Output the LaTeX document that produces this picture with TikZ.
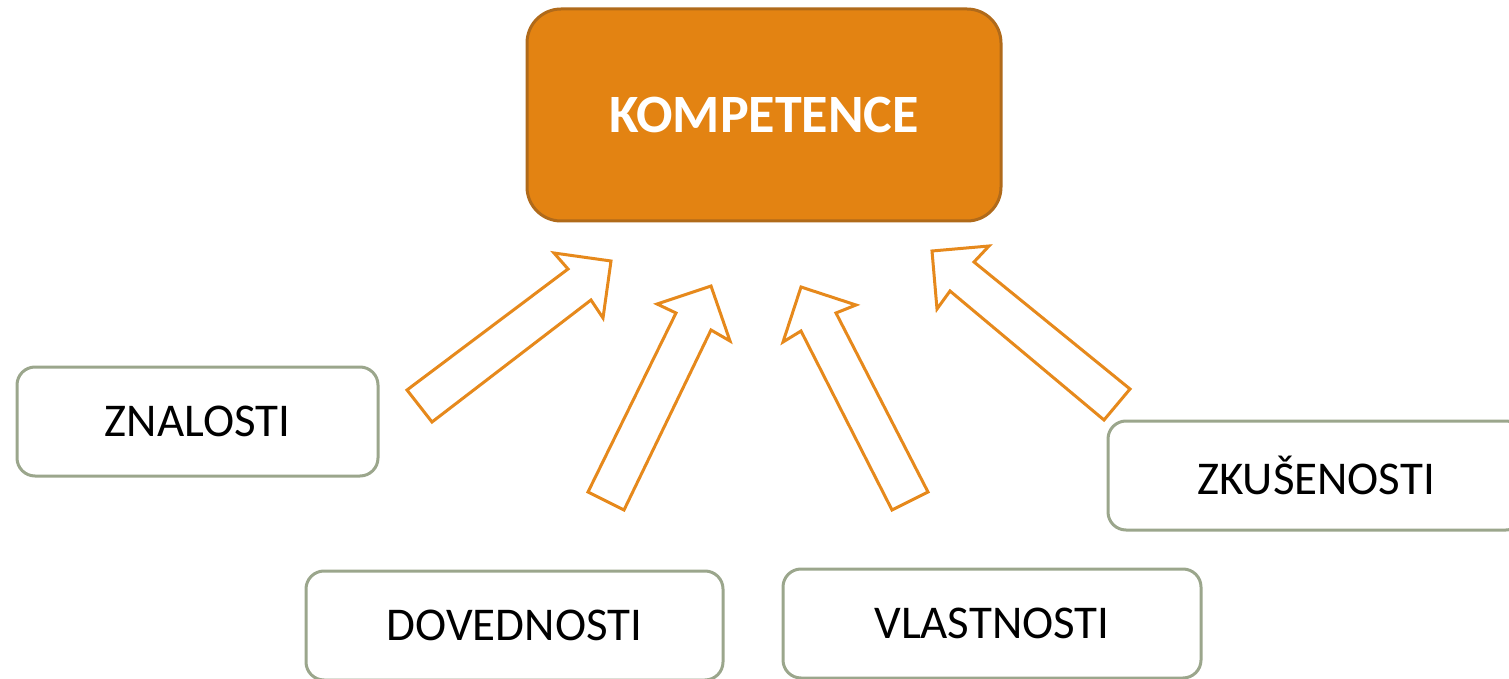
\documentclass[tikz,border=0pt]{standalone}
\usepackage{fontspec}
\setmainfont{Carlito}
\definecolor{kfill}{HTML}{E38312}
\definecolor{kdraw}{HTML}{B06A1A}
\definecolor{arr}{HTML}{E6891C}
\definecolor{boxd}{HTML}{9BA68C}
\tikzset{
  mainbox/.style={draw=kdraw, fill=kfill, line width=1.5pt, rounded corners=17pt,
    minimum width=237pt, minimum height=106pt, text=white,
    font=\fontsize{27}{32}\selectfont\bfseries},
  itembox/.style={draw=boxd, fill=white, line width=1.5pt, rounded corners=9pt,
    minimum height=54.5pt, text=black, font=\fontsize{23.5}{28}\selectfont},
  blockarrow/.style={draw=arr, fill=white, line width=1.5pt, line join=miter}
}
\begin{document}
\begin{tikzpicture}[x=0.5pt,y=-0.5pt]
\useasboundingbox (0,0) rectangle (1509,679);
\clip (0,0) rectangle (1509,679);
\node[mainbox] (komp) at (764,115) {KOMPETENCE};
\node[itembox, minimum width=180.5pt] (zna) at (197.5,421.5) {ZNALOSTI};
\node[itembox, minimum width=208.5pt] (dov) at (514.5,625.5) {DOVEDNOSTI};
\node[itembox, minimum width=209pt] (vla) at (992,623.5) {VLASTNOSTI};
\node[itembox, minimum width=208pt] (zku) at (1316,475.5) {ZKUŠENOSTI};
\draw[blockarrow] (407,390) -- (568,269) -- (554,253) -- (611,261) -- (603,318) -- (591,300) -- (432,422) -- cycle;
\draw[blockarrow] (588,492) -- (676,313) -- (657,304) -- (711,286) -- (730,341) -- (711,330) -- (624,510) -- cycle;
\draw[blockarrow] (892,510) -- (801,331) -- (783,342) -- (801,287) -- (856,305) -- (836,313) -- (928,492) -- cycle;
\draw[blockarrow] (1130,389) -- (974,262) -- (989,246) -- (932,251) -- (937,309) -- (950,291) -- (1104,420) -- cycle;
\end{tikzpicture}
\end{document}
